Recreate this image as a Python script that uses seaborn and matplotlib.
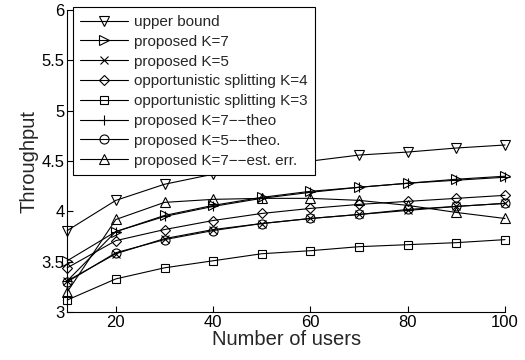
import matplotlib
matplotlib.use("Agg")
import matplotlib.pyplot as plt
import seaborn as sns
import pandas as pd

# values
users = [10, 20, 30, 40, 50, 60, 70, 80, 90, 100]
upper_bound = [3.81, 4.11, 4.27, 4.37, 4.44, 4.50, 4.56, 4.59, 4.63, 4.66]
prop_k7 = [3.51, 3.80, 3.96, 4.06, 4.14, 4.20, 4.24, 4.28, 4.32, 4.35]
prop_k5 = [3.31, 3.58, 3.73, 3.82, 3.88, 3.93, 3.97, 4.01, 4.05, 4.08]
opp_k4 = [3.44, 3.71, 3.82, 3.91, 3.98, 4.03, 4.07, 4.10, 4.13, 4.16]
opp_k3 = [3.12, 3.33, 3.44, 3.51, 3.58, 3.61, 3.65, 3.67, 3.69, 3.72]
prop_k7_theo = [3.31, 3.80, 3.95, 4.05, 4.13, 4.19, 4.24, 4.28, 4.31, 4.34]
prop_k5_theo = [3.30, 3.59, 3.72, 3.81, 3.88, 3.93, 3.97, 4.02, 4.05, 4.08]
prop_k7_est = [3.20, 3.92, 4.09, 4.12, 4.13, 4.13, 4.11, 4.06, 3.99, 3.93]

labels = ["upper bound", "proposed K=7", "proposed K=5",
          "opportunistic splitting K=4", "opportunistic splitting K=3",
          "proposed K=7\u2212\u2212theo", "proposed K=5\u2212\u2212theo.",
          "proposed K=7\u2212\u2212est. err."]
markers = ["v", ">", "x", "D", "s", "+", "o", "^"]
series = [upper_bound, prop_k7, prop_k5, opp_k4, opp_k3,
          prop_k7_theo, prop_k5_theo, prop_k7_est]

y_ticks = [3, 3.5, 4, 4.5, 5, 5.5, 6]
y_ticklabels = ["3", "3.5", "4", "4.5", "5", "5.5", "6"]
x_ticks = [20, 40, 60, 80, 100]

sns.set_style("ticks")
plt.rcParams["font.family"] = ["Liberation Sans", "DejaVu Sans"]
plt.rcParams["xtick.direction"] = "in"
plt.rcParams["ytick.direction"] = "in"

fig = plt.figure(figsize=(5.25, 3.6), dpi=100)
ax = fig.add_axes([0.128, 0.133, 0.834, 0.839])

sizes = {"D": 5, "s": 5.5, "o": 6.5, "x": 5.5, "+": 7}
for lab, mk, vals in zip(labels, markers, series):
    d = pd.DataFrame({"users": users, "tp": vals})
    sns.lineplot(data=d, x="users", y="tp", ax=ax, color="black",
                 linewidth=0.8, marker=mk, markersize=sizes.get(mk, 6.5),
                 markerfacecolor="none", markeredgecolor="black",
                 markeredgewidth=0.8, label=lab, clip_on=False)

ax.set_xlim(10, 100)
ax.set_ylim(3, 6)
ax.set_xticks(x_ticks)
ax.set_yticks(y_ticks)
ax.set_yticklabels(y_ticklabels)
ax.tick_params(labelsize=12, length=4, width=0.8, colors="black", pad=2)
ax.set_xlabel("Number of users", fontsize=14.5, labelpad=0)
ax.set_ylabel("Throughput", fontsize=14.5, labelpad=2)
sns.despine(ax=ax)
for s in ["left", "bottom"]:
    ax.spines[s].set_color("black")
    ax.spines[s].set_linewidth(0.8)

leg = ax.legend(loc="upper left", bbox_to_anchor=(72.7 / 525, 1 - 7.3 / 360),
                bbox_transform=fig.transFigure, borderaxespad=0,
                fontsize=11, handlelength=3.1, handletextpad=0.4,
                labelspacing=0.38, borderpad=0.5, fancybox=False,
                framealpha=1, edgecolor="black")
leg.get_frame().set_linewidth(0.8)
leg.set_zorder(5)

fig.savefig("out.png", dpi=100)
